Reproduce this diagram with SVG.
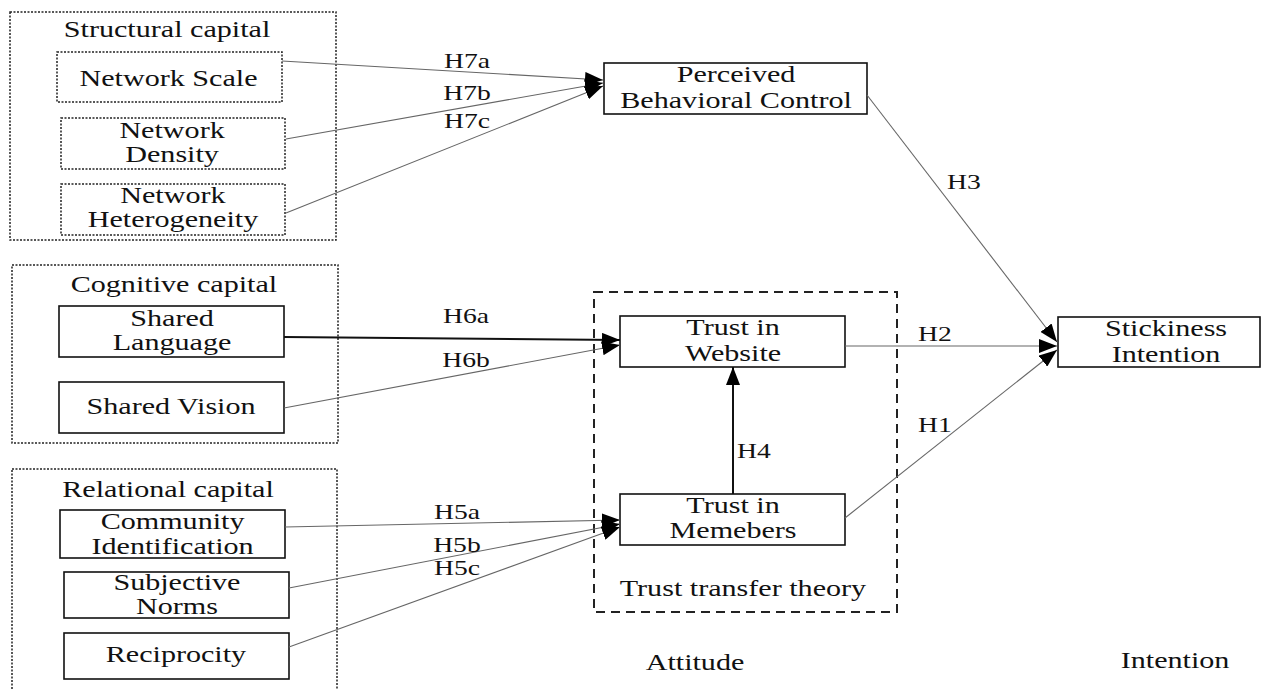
<svg xmlns="http://www.w3.org/2000/svg" width="1262" height="689" viewBox="0 0 1262 689">
<style>
.bg{fill:#fff}
.grp{fill:none;stroke:#222;stroke-width:1.5;stroke-dasharray:2 1.5}
.dot{fill:#fff;stroke:#222;stroke-width:1.5;stroke-dasharray:2 1.5}
.box{fill:#fff;stroke:#111;stroke-width:1.6}
.dash{fill:none;stroke:#222;stroke-width:2;stroke-dasharray:9 6}
.t{font-family:"Liberation Serif","Times New Roman",serif;font-size:24px;fill:#111;text-anchor:middle;transform:scaleX(1.255)}
.l{font-family:"Liberation Serif","Times New Roman",serif;font-size:22px;fill:#111;transform:scaleX(1.255)}
.m{text-anchor:middle}
.c{fill:none;stroke:#666;stroke-width:1.1}
.ck{fill:none;stroke:#111;stroke-width:2}
</style>
<defs>
<marker id="ah" viewBox="0 0 18 14" refX="18" refY="7" markerWidth="18" markerHeight="14" markerUnits="userSpaceOnUse" orient="auto">
<path d="M0,0 L18,7 L0,14 z" fill="#000"/>
</marker>
</defs>
<rect class="bg" x="0" y="0" width="1262" height="689"/>

<g id="structural-capital">
<rect class="grp" x="10" y="12" width="326" height="228"/>
<text class="t" x="133.1" y="37">Structural capital</text>
</g>
<g id="network-scale">
<rect class="dot" x="57" y="52" width="225" height="50"/>
<text class="t" x="134.3" y="86">Network Scale</text>
</g>
<g id="network-density">
<rect class="dot" x="61" y="118" width="224" height="51"/>
<text class="t" x="137.1" y="138">Network</text>
<text class="t" x="137.1" y="162">Density</text>
</g>
<g id="network-heterogeneity">
<rect class="dot" x="61" y="184" width="224" height="51"/>
<text class="t" x="137.8" y="203">Network</text>
<text class="t" x="137.8" y="227">Heterogeneity</text>
</g>

<g id="cognitive-capital">
<rect class="grp" x="12" y="265" width="326" height="178"/>
<text class="t" x="138.6" y="292">Cognitive capital</text>
</g>
<g id="shared-language">
<rect class="box" x="59" y="306" width="225" height="51"/>
<text class="t" x="137.1" y="326">Shared</text>
<text class="t" x="137.1" y="350">Language</text>
</g>
<g id="shared-vision">
<rect class="box" x="59" y="382" width="225" height="51"/>
<text class="t" x="136.3" y="414">Shared Vision</text>
</g>

<g id="relational-capital">
<rect class="grp" x="12" y="469" width="325" height="240"/>
<text class="t" x="133.9" y="497">Relational capital</text>
</g>
<g id="community-identification">
<rect class="box" x="60" y="510" width="225" height="48"/>
<text class="t" x="137.5" y="529">Community</text>
<text class="t" x="137.5" y="554">Identification</text>
</g>
<g id="subjective-norms">
<rect class="box" x="64" y="572" width="225" height="46"/>
<text class="t" x="141" y="590">Subjective</text>
<text class="t" x="141" y="614">Norms</text>
</g>
<g id="reciprocity">
<rect class="box" x="64" y="633" width="225" height="46"/>
<text class="t" x="140.2" y="662">Reciprocity</text>
</g>

<g id="perceived-behavioral-control">
<rect class="box" x="604" y="63" width="263" height="51"/>
<text class="t" x="586.5" y="82">Perceived</text>
<text class="t" x="586.5" y="108">Behavioral Control</text>
</g>

<g id="trust-transfer-theory">
<rect class="dash" x="594" y="292" width="303" height="320"/>
<text class="t" x="592" y="596">Trust transfer theory</text>
</g>
<g id="trust-in-website">
<rect class="box" x="620" y="316" width="225" height="51"/>
<text class="t" x="584.1" y="335">Trust in</text>
<text class="t" x="584.1" y="361">Website</text>
</g>
<g id="trust-in-members">
<rect class="box" x="620" y="494" width="225" height="51"/>
<text class="t" x="584.1" y="513">Trust in</text>
<text class="t" x="584.1" y="538">Memebers</text>
</g>

<g id="stickiness-intention">
<rect class="box" x="1058" y="317" width="202" height="50"/>
<text class="t" x="929.1" y="336">Stickiness</text>
<text class="t" x="929.1" y="362">Intention</text>
</g>

<g id="stage-labels">
<text class="t" x="553.8" y="670">Attitude</text>
<text class="t" x="936.3" y="668">Intention</text>
</g>

<g id="connectors">
<line class="c" x1="282" y1="61" x2="603" y2="80" marker-end="url(#ah)"/>
<line class="c" x1="286" y1="139" x2="603" y2="83" marker-end="url(#ah)"/>
<line class="c" x1="286" y1="213" x2="603" y2="86" marker-end="url(#ah)"/>
<line class="ck" x1="284" y1="337" x2="620" y2="340" marker-end="url(#ah)"/>
<line class="c" x1="284" y1="408" x2="620" y2="345" marker-end="url(#ah)"/>
<line class="c" x1="285" y1="527" x2="620" y2="520" marker-end="url(#ah)"/>
<line class="c" x1="289" y1="588" x2="620" y2="524" marker-end="url(#ah)"/>
<line class="c" x1="289" y1="647" x2="620" y2="527" marker-end="url(#ah)"/>
<line class="ck" x1="733" y1="494" x2="733" y2="367" marker-end="url(#ah)"/>
<line class="c" x1="867" y1="95" x2="1057" y2="342" marker-end="url(#ah)"/>
<line class="c" x1="845" y1="346" x2="1057" y2="346" marker-end="url(#ah)"/>
<line class="c" x1="845" y1="518" x2="1057" y2="350" marker-end="url(#ah)"/>
<text class="l m" x="372.1" y="68">H7a</text>
<text class="l m" x="372.1" y="100">H7b</text>
<text class="l m" x="372.1" y="128">H7c</text>
<text class="l m" x="371.3" y="323">H6a</text>
<text class="l m" x="371.3" y="367">H6b</text>
<text class="l m" x="364.1" y="519">H5a</text>
<text class="l m" x="364.1" y="552">H5b</text>
<text class="l m" x="364.1" y="575">H5c</text>
<text class="l" x="587.3" y="458">H4</text>
<text class="l" x="754.6" y="189">H3</text>
<text class="l" x="731.5" y="341">H2</text>
<text class="l" x="731.5" y="432">H1</text>
</g>
</svg>
